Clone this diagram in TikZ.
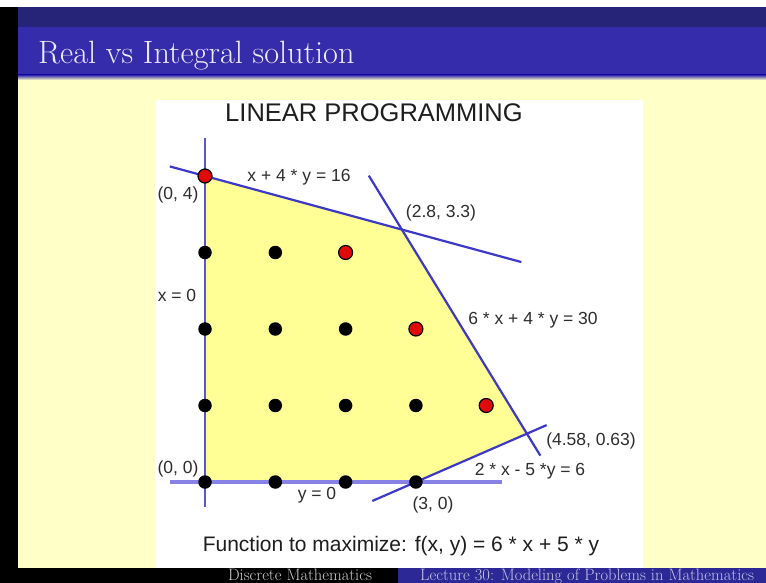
\documentclass[tikz,border=0pt]{standalone}
\usepackage{fontspec}
\newfontfamily\labfont{Liberation Sans}
\definecolor{slideyellow}{RGB}{255,255,200}
\definecolor{regionyellow}{RGB}{255,255,150}
\definecolor{navybar}{RGB}{38,36,120}
\definecolor{titleblue}{RGB}{52,44,170}
\definecolor{footblue}{RGB}{44,40,150}
\definecolor{lineblue}{RGB}{60,56,200}
\definecolor{axisblue}{RGB}{135,130,230}
\definecolor{dotred}{RGB}{225,10,10}
\definecolor{labgray}{RGB}{45,45,45}
\tikzset{
  dot/.style={circle,fill=black,inner sep=0pt,minimum size=13.5pt},
  reddot/.style={circle,fill=dotred,draw=black,line width=1.2pt,inner sep=0pt,minimum size=14pt},
  cline/.style={draw=lineblue,line width=2.2pt},
  axisline/.style={draw=axisblue,line width=3.2pt},
  lab/.style={font=\labfont\fontsize{17.5}{18}\selectfont,text=labgray,inner sep=0pt},
}
\begin{document}
\begin{tikzpicture}[x=1pt,y=-1pt]
\useasboundingbox (0,0) rectangle (766,583);
\clip (0,0) rectangle (766,583);
% slide background
\fill[white] (0,0) rectangle (766,583);
\fill[slideyellow] (18,76) rectangle (766,568);
\fill[navybar] (18,7) rectangle (766,27);
\fill[titleblue] (18,27) rectangle (766,76);
\shade[top color=titleblue,bottom color=slideyellow] (18,75) rectangle (766,80);
\fill[black] (0,7) rectangle (18,583);
\node[anchor=base west,inner sep=0pt,text={rgb,255:red,235;green,235;blue,245},
  font=\fontsize{32.3}{33}\selectfont] (title) at (38,64) {Real vs Integral solution};
% image area
\fill[white] (155,100) rectangle (643,568);
% diagram
\begin{scope}[shift={(205pt,-482pt)},x=70.3pt,y=76.5pt]
  \fill[regionyellow] (0,0) -- (0,4) -- (2.8,3.3) -- (4.58,0.63) -- (3,0) -- cycle;
  \coordinate (l1a) at (-0.5,4.125);
  \coordinate (l1b) at (4.5,2.875);
  \coordinate (l2a) at (2.33,4.005);
  \coordinate (l2b) at (4.77,0.345);
  \coordinate (l3a) at (2.38,-0.248);
  \coordinate (l3b) at (4.86,0.744);
  \coordinate (xa) at (0,4.5);
  \coordinate (xb) at (0,-0.33);
  \coordinate (ya) at (-0.5,0);
  \coordinate (yb) at (4.22,0);
  \draw[axisline] (ya) -- (yb);
  \draw[cline,draw=lineblue!85!white] (xa) -- (xb);
  \draw[cline] (l1a) -- (l1b);
  \draw[cline] (l2a) -- (l2b);
  \draw[cline] (l3a) -- (l3b);
  % integer points
  \node[dot] (p00) at (0,0) {};
  \node[dot] (p10) at (1,0) {};
  \node[dot] (p20) at (2,0) {};
  \node[dot] (p30) at (3,0) {};
  \node[dot] (p01) at (0,1) {};
  \node[dot] (p11) at (1,1) {};
  \node[dot] (p21) at (2,1) {};
  \node[dot] (p31) at (3,1) {};
  \node[reddot] (p41) at (4,1) {};
  \node[dot] (p02) at (0,2) {};
  \node[dot] (p12) at (1,2) {};
  \node[dot] (p22) at (2,2) {};
  \node[reddot] (p32) at (3,2) {};
  \node[dot] (p03) at (0,3) {};
  \node[dot] (p13) at (1,3) {};
  \node[reddot] (p23) at (2,3) {};
  \node[reddot] (p04) at (0,4) {};
\end{scope}
% labels
\node[lab,font=\labfont\fontsize{25.5}{26}\selectfont,text={rgb,255:red,30;green,30;blue,30}] (head) at (374,113) {LINEAR PROGRAMMING};
\node[lab] (t04) at (178,195) {(0, 4)};
\node[lab] (e1) at (299,177) {x + 4 * y = 16};
\node[lab] (t2833) at (441,213) {(2.8, 3.3)};
\node[lab] (ex0) at (177,295) {x = 0};
\node[lab] (e2) at (533,320) {6 * x + 4 * y = 30};
\node[lab] (t458) at (591,441) {(4.58, 0.63)};
\node[lab] (t00) at (178,469) {(0, 0)};
\node[lab] (e3) at (530,471) {2 * x - 5 *y = 6};
\node[lab] (ey0) at (317,495) {y = 0};
\node[lab] (t30) at (433,505) {(3, 0)};
\node[lab,font=\labfont\fontsize{21}{22}\selectfont,text={rgb,255:red,30;green,30;blue,30}] (func) at (401,546) {Function to maximize: f(x, y) = 6 * x + 5 * y};
% footer
\fill[black] (0,568) rectangle (398,583);
\fill[footblue] (398,568) rectangle (766,583);
\node[anchor=base,inner sep=0pt,text={rgb,255:red,205;green,205;blue,205},font=\fontsize{16.5}{17}\selectfont] (foot1) at (300,580) {Discrete Mathematics};
\node[anchor=base west,inner sep=0pt,text={rgb,255:red,195;green,195;blue,230},font=\fontsize{16.5}{17}\selectfont] (foot2) at (420,580) {Lecture 30: Modeling of Problems in Mathematics};
\end{tikzpicture}
\end{document}
